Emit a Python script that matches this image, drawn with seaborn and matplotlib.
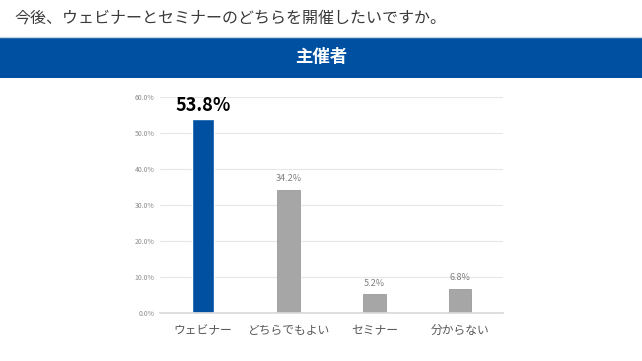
import matplotlib
matplotlib.use("Agg")
import matplotlib.pyplot as plt
import seaborn as sns
import pandas as pd
from matplotlib.ticker import PercentFormatter

# data
categories = ["ウェビナー", "どちらでもよい", "セミナー", "分からない"]
shares = [53.8, 34.2, 5.2, 6.8]
bar_colors = ["#0050A2", "#A6A6A6", "#A6A6A6", "#A6A6A6"]
y_ticks = [0, 10, 20, 30, 40, 50, 60]

question = "今後、ウェビナーとセミナーのどちらを開催したいですか。"
band_title = "主催者"

sns.set_theme(style="white")
plt.rcParams['font.family'] = ['Noto Sans CJK JP', 'DejaVu Sans']

df = pd.DataFrame({"category": categories, "share": shares})

fig = plt.figure(figsize=(6.42, 3.61), dpi=100)

# question text and blue header band
fig.text(14 / 642, 1 - 18 / 361, question, fontsize=11.5, color="#3A3A3A",
         va="center", ha="left")
band = fig.add_axes([0, 1 - 78 / 361, 1, 41 / 361])
band.set_facecolor("#0050A2")
band.set_xticks([])
band.set_yticks([])
for s in band.spines.values():
    s.set_visible(False)
band.text(0.5, 0.5, band_title, fontsize=12.5, color="white", fontweight="bold",
          ha="center", va="center", transform=band.transAxes)
fig.add_artist(plt.Line2D([0, 1], [1 - 37 / 361] * 2, color="#C9D6E8", lw=1))

# main chart
ax = fig.add_axes([160 / 642, 1 - 313 / 361, 343 / 642, 216 / 361])
sns.barplot(data=df, x="category", y="share", hue="category", palette=bar_colors,
            width=0.26, legend=False, ax=ax, saturation=1)
for i, p in enumerate(ax.patches):
    if i > 0:
        p.set_edgecolor("#9A9A9A")
        p.set_linewidth(0.6)

ax.set_ylim(0, 60)
ax.set_yticks(y_ticks)
ax.yaxis.set_major_formatter(PercentFormatter(decimals=1))
ax.grid(axis="y", color="#E6E6E6", lw=0.8)
ax.set_axisbelow(True)
for s in ["top", "right", "left"]:
    ax.spines[s].set_visible(False)
ax.spines["bottom"].set_color("#D9D9D9")
ax.tick_params(axis="y", labelsize=5, labelcolor="#8C8C8C", length=0, pad=4)
ax.tick_params(axis="x", labelsize=8.5, labelcolor="#595959", length=0, pad=8)
ax.set_xlabel("")
ax.set_ylabel("")

for i, v in enumerate(shares):
    if i == 0:
        ax.text(i, v + 1.2, f"{v:.1f}%", ha="center", va="bottom",
                fontsize=13, fontweight="bold", color="black")
    else:
        ax.text(i, v + 1.8, f"{v:.1f}%", ha="center", va="bottom",
                fontsize=6.5, color="#7F7F7F")

fig.savefig("out.png", dpi=100)
